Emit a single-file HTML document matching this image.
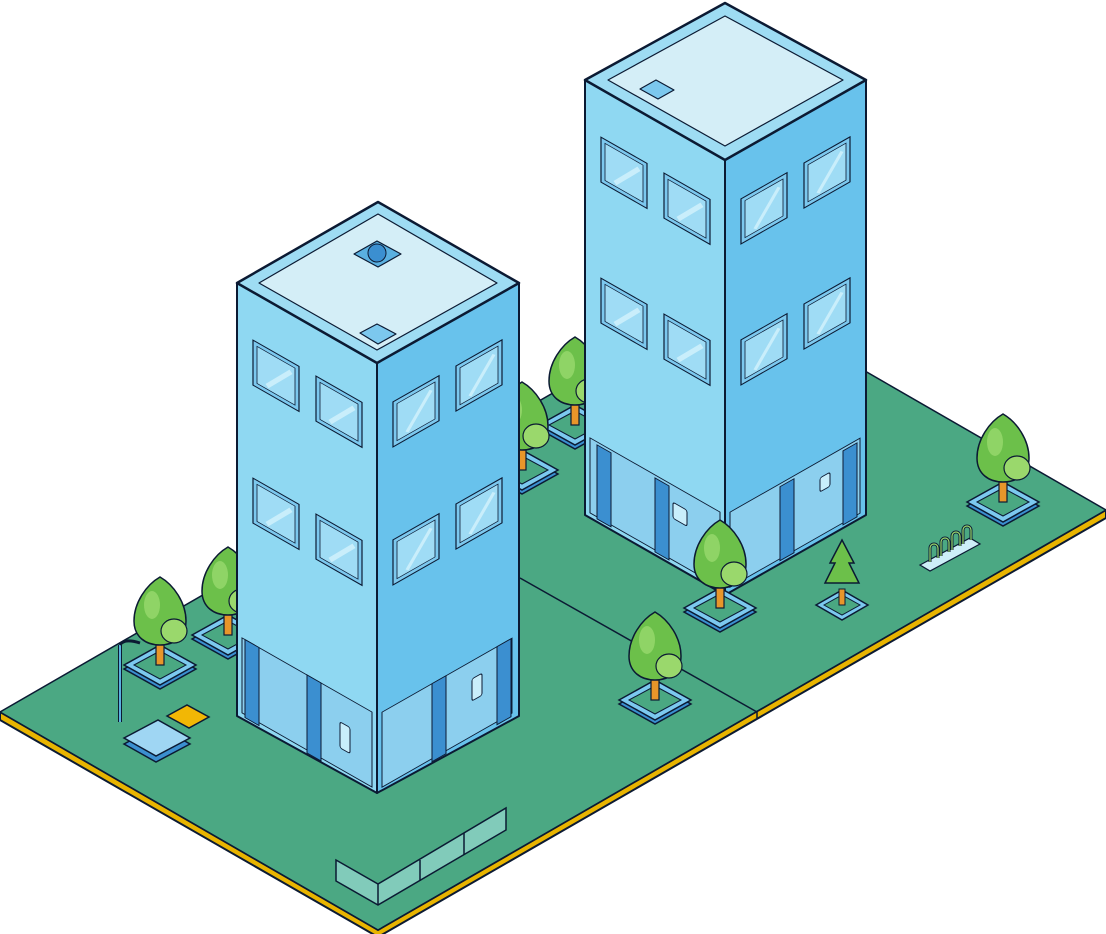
<!DOCTYPE html>
<html><head><meta charset="utf-8"><style>html,body{margin:0;padding:0;background:#fff}svg{display:block}</style></head><body>
<svg width="1106" height="934" viewBox="0 0 1106 934" xmlns="http://www.w3.org/2000/svg">
<defs>
<g id="tree">
<polygon points="-36,0 0,-20 36,0 0,20" fill="#3b8fd0" stroke="#0b1a33" stroke-width="1.5" transform="translate(0,4)"/>
<polygon points="-36,0 0,-20 36,0 0,20" fill="#7cc9ef" stroke="#0b1a33" stroke-width="1.5"/>
<polygon points="-26,0 0,-14 26,0 0,14" fill="#4aa882" stroke="#0b1a33" stroke-width="1"/>
<rect x="-4" y="-22" width="8" height="22" fill="#e8962a" stroke="#0b1a33" stroke-width="1.2"/>
<path d="M0,-88 C14,-80 26,-62 26,-44 C26,-28 14,-20 0,-20 C-14,-20 -26,-28 -26,-44 C-26,-62 -14,-80 0,-88 Z" fill="#6cc04a" stroke="#0b1a33" stroke-width="1.5"/>
<ellipse cx="14" cy="-34" rx="13" ry="12" fill="#9ad86c" stroke="#0b1a33" stroke-width="1.2"/>
<ellipse cx="-8" cy="-60" rx="8" ry="14" fill="#8fd466"/>
</g>
<g id="pine">
<polygon points="-26,0 0,-15 26,0 0,15" fill="#7cc9ef" stroke="#0b1a33" stroke-width="1.5"/>
<polygon points="-18,0 0,-10 18,0 0,10" fill="#4aa882" stroke="#0b1a33" stroke-width="1"/>
<rect x="-3" y="-16" width="6" height="16" fill="#e8962a" stroke="#0b1a33"/>
<polygon points="0,-65 12,-42 7,-42 17,-22 -17,-22 -7,-42 -12,-42" fill="#6cc04a" stroke="#0b1a33" stroke-width="1.5"/>
</g>
<g id="winL">
<rect width="46" height="45" fill="#7cc8ee" stroke="#0b1a33" stroke-width="1.2"/>
<rect x="4" y="4" width="38" height="37" fill="#9fdcf5" stroke="#0b1a33" stroke-width="0.8"/>
<line x1="14" y1="38" x2="38" y2="10" stroke="#c9eefb" stroke-width="4"/>
</g>
</defs>

<polygon points="0,712 378,930 1106,510 1106,518 378,937 0,720" fill="#e8b400" stroke="#0b1a33" stroke-width="2"/>
<polygon points="0,712 728,292 1106,510 378,930" fill="#4ba883" stroke="#0b1a33" stroke-width="1.5"/>
<line x1="520" y1="578" x2="757" y2="712" stroke="#0b1a33" stroke-width="1.5"/>
<line x1="757" y1="712" x2="757" y2="718" stroke="#0b1a33" stroke-width="1.5"/>

<use href="#tree" x="575" y="425"/>
<use href="#tree" x="522" y="470"/>
<use href="#tree" x="228" y="635"/>
<use href="#tree" x="160" y="665"/>

<line x1="120" y1="722" x2="120" y2="645" stroke="#0b1a33" stroke-width="4"/>
<line x1="120" y1="722" x2="120" y2="645" stroke="#5ab0e0" stroke-width="2"/>
<path d="M120,645 Q124,638 140,643" fill="none" stroke="#0b1a33" stroke-width="3"/>
<polygon points="124,744 158,726 190,744 156,762" fill="#3b8fd0" stroke="#0b1a33" stroke-width="1.5"/>
<polygon points="124,738 158,720 190,738 156,756" fill="#9fd6f3" stroke="#0b1a33" stroke-width="1.5"/>
<polygon points="167,716 187,705 209,717 189,728" fill="#f2b705" stroke="#0b1a33" stroke-width="1.5"/>

<g stroke="#0b1a33" stroke-linejoin="round">
<polygon points="585,80 725,160 725,595 585,515" fill="#8fd8f2" stroke-width="2"/>
<polygon points="725,160 866,80 866,515 725,595" fill="#68c2ec" stroke-width="2"/>
<polygon points="725,3 866,80 725,160 585,80" fill="#9edcf3" stroke-width="2.5"/>
<polygon points="725,16 843,80 725,146 608,80" fill="#d4eef7" stroke-width="1.2"/>
<polygon points="640,89 656,80 674,90 658,99" fill="#7cc8ee" stroke-width="1.2"/>
</g>
<g transform="matrix(1,0.571,0,1,585,80)">
<use href="#winL" x="16" y="48"/><use href="#winL" x="79" y="48"/>
<use href="#winL" x="16" y="189"/><use href="#winL" x="79" y="189"/>
<rect x="5" y="355" width="130" height="75" fill="#8ccfee" stroke="#0b1a33"/>
<rect x="12" y="358" width="14" height="74" fill="#3b8fd0" stroke="#0b1a33"/>
<rect x="70" y="358" width="14" height="74" fill="#3b8fd0" stroke="#0b1a33"/>
<rect x="88" y="372" width="14" height="16" rx="2" fill="#c9eefb" stroke="#0b1a33"/>
</g>
<g transform="matrix(1,-0.569,0,1,725,160)">
<use href="#winL" x="16" y="48"/><use href="#winL" x="79" y="48"/>
<use href="#winL" x="16" y="189"/><use href="#winL" x="79" y="189"/>
<rect x="5" y="355" width="130" height="75" fill="#8ccfee" stroke="#0b1a33"/>
<rect x="55" y="358" width="14" height="74" fill="#3b8fd0" stroke="#0b1a33"/>
<rect x="118" y="358" width="14" height="74" fill="#3b8fd0" stroke="#0b1a33"/>
<rect x="95" y="372" width="10" height="14" rx="2" fill="#c9eefb" stroke="#0b1a33"/>
</g>

<g stroke="#0b1a33" stroke-linejoin="round">
<polygon points="237,283 377,363 377,793 237,716" fill="#8fd8f2" stroke-width="2"/>
<polygon points="377,363 519,283 519,716 377,793" fill="#68c2ec" stroke-width="2"/>
<polygon points="378,202 519,283 377,363 237,283" fill="#9edcf3" stroke-width="2.5"/>
<polygon points="378,214 497,283 377,350 259,283" fill="#d4eef7" stroke-width="1.2"/>
<polygon points="354,254 377,241 401,254 378,267" fill="#5ab0e0" stroke-width="1.2"/>
<circle cx="377" cy="253" r="9" fill="#3b8fd0" stroke-width="1"/>
<polygon points="360,333 377,324 396,334 378,344" fill="#7cc8ee" stroke-width="1.2"/>
</g>
<g transform="matrix(1,0.571,0,1,237,283)">
<use href="#winL" x="16" y="48"/><use href="#winL" x="79" y="48"/>
<use href="#winL" x="16" y="186"/><use href="#winL" x="79" y="186"/>
<rect x="5" y="352" width="130" height="75" fill="#8ccfee" stroke="#0b1a33"/>
<rect x="8" y="352" width="14" height="78" fill="#3b8fd0" stroke="#0b1a33"/>
<rect x="70" y="352" width="14" height="78" fill="#3b8fd0" stroke="#0b1a33"/>
<rect x="103" y="380" width="10" height="26" rx="2" fill="#c9eefb" stroke="#0b1a33"/>
</g>
<g transform="matrix(1,-0.569,0,1,377,363)">
<use href="#winL" x="16" y="48"/><use href="#winL" x="79" y="48"/>
<use href="#winL" x="16" y="186"/><use href="#winL" x="79" y="186"/>
<rect x="5" y="352" width="130" height="75" fill="#8ccfee" stroke="#0b1a33"/>
<rect x="55" y="352" width="14" height="78" fill="#3b8fd0" stroke="#0b1a33"/>
<rect x="120" y="352" width="14" height="78" fill="#3b8fd0" stroke="#0b1a33"/>
<rect x="95" y="370" width="10" height="22" rx="2" fill="#c9eefb" stroke="#0b1a33"/>
</g>

<use href="#tree" x="720" y="608"/>
<use href="#tree" x="655" y="700"/>
<use href="#tree" x="1003" y="502"/>
<use href="#pine" x="842" y="605"/>

<polygon points="920,565 970,538 980,544 930,571" fill="#cdeef8" stroke="#0b1a33" stroke-width="1.2"/>
<g fill="none" stroke="#0b1a33" stroke-width="3">
<path d="M930,562 v-14 a4,4 0 0 1 8,0 v10"/><path d="M941,556 v-14 a4,4 0 0 1 8,0 v10"/>
<path d="M952,550 v-14 a4,4 0 0 1 8,0 v10"/><path d="M963,544 v-14 a4,4 0 0 1 8,0 v10"/>
</g>
<g fill="none" stroke="#9ad86c" stroke-width="1.2">
<path d="M930,562 v-14 a4,4 0 0 1 8,0 v10"/><path d="M941,556 v-14 a4,4 0 0 1 8,0 v10"/>
<path d="M952,550 v-14 a4,4 0 0 1 8,0 v10"/><path d="M963,544 v-14 a4,4 0 0 1 8,0 v10"/>
</g>

<polygon points="336,860 378,884 506,808 506,830 378,905 336,881" fill="#8fd3c8" fill-opacity="0.8" stroke="#0b1a33" stroke-width="1.5"/>
<line x1="378" y1="884" x2="378" y2="905" stroke="#0b1a33" stroke-width="1.5"/>
<line x1="420" y1="860" x2="420" y2="881" stroke="#0b1a33" stroke-width="1.5"/>
<line x1="464" y1="833" x2="464" y2="855" stroke="#0b1a33" stroke-width="1.5"/>
</svg>
</body></html>
